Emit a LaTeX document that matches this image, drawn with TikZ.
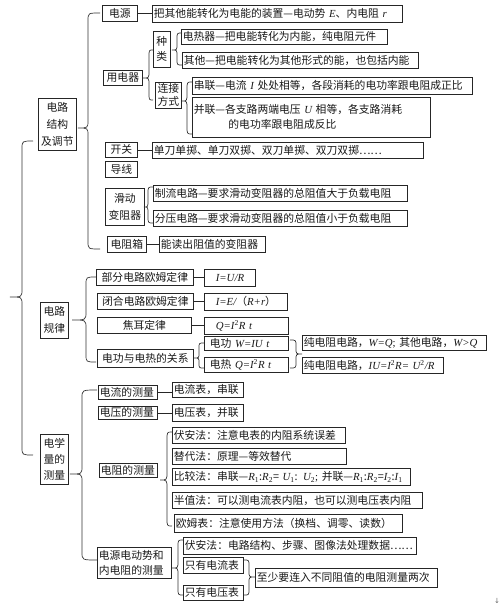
\documentclass[tikz,border=0pt]{standalone}
\usepackage{fontspec}
\setmainfont{Noto Sans CJK SC}
\newfontfamily\tms{Liberation Serif}
\newfontfamily\djv{DejaVu Sans}
\newcommand\vi[1]{{\tms\itshape #1}}
\newcommand\sbs[1]{\textsubscript{\tms\upshape #1}}
\newcommand\sps[1]{\textsuperscript{\tms\upshape #1}}
\newcommand\brc[7]{\draw[br] (#1,#2) .. controls (#3,#2) .. (#3,{#2+#7}) -- (#3,{#5-#7}) .. controls (#3,#5) .. (#4,#5) .. controls (#3,#5) .. (#3,{#5+#7}) -- (#3,{#6-#7}) .. controls (#3,#6) .. (#1,#6);}
\begin{document}
\begin{tikzpicture}[x=1pt,y=-1pt,
  bx/.style={draw=black!85, line width=0.7pt, inner xsep=1.5pt, inner ysep=0pt,
    anchor=north west, align=left, font=\fontsize{10.8}{15}\selectfont, text=black!90},
  ln/.style={draw=black!85, line width=0.7pt},
  br/.style={draw=black!80, line width=0.7pt}]
\fill[white] (0,0) rectangle (501,607);
\useasboundingbox (0,0) rectangle (501,607);

% --- circuit structure
\node[bx,text width=32pt,minimum height=16pt,align=center] (yuan) at (102,5) {电源};
\node[bx,text width=247pt,minimum height=17pt] (yuand) at (152,5) {把其他能转化为电能的装置—电动势 \vi{E}、内电阻 \vi{r}};
\node[bx,text width=14pt,minimum height=36pt,align=center] (zl) at (153,31) {种\\类};
\node[bx,text width=203pt,minimum height=15pt] (drq) at (181,29) {电热器—把电能转化为内能，纯电阻元件};
\node[bx,text width=233pt,minimum height=16pt] (qt) at (182,52) {其他—把电能转化为其他形式的能，也包括内能};
\node[bx,text width=36pt,minimum height=15pt,align=center] (yd) at (103,70) {用电器};
\node[bx,text width=23pt,minimum height=26pt,align=center,font=\fontsize{10.8}{13}\selectfont] (ljfs) at (155,82) {连接\\方式};
\node[bx,text width=277pt,minimum height=17pt] (cl) at (192,77) {串联—电流 \vi{I} 处处相等，各段消耗的电功率跟电阻成正比};
\node[bx,text width=235pt,minimum height=40pt] (bl) at (192,97) {并联—各支路两端电压 \vi{U} 相等，各支路消耗\\\hspace*{3.2em}的电功率跟电阻成反比};
\node[bx,text width=35pt,minimum height=52pt,align=center,font=\fontsize{10.8}{17}\selectfont] (jg) at (38,98) {电路\\结构\\及调节};
\node[bx,text width=29pt,minimum height=15pt,align=center] (kg) at (105,142) {开关};
\node[bx,text width=268pt,minimum height=16pt] (kgd) at (152,142) {单刀单掷、单刀双掷、双刀单掷、双刀双掷……};
\node[bx,text width=29pt,minimum height=16pt,align=center] (dx) at (105,161) {导线};
\node[bx,text width=36pt,minimum height=37pt,align=center,font=\fontsize{10.8}{17}\selectfont] (hd) at (105,188) {滑动\\变阻器};
\node[bx,text width=251pt,minimum height=16pt] (zliu) at (153,185) {制流电路—要求滑动变阻器的总阻值大于负载电阻};
\node[bx,text width=251pt,minimum height=16pt] (fy) at (153,210) {分压电路—要求滑动变阻器的总阻值小于负载电阻};
\node[bx,text width=36pt,minimum height=16pt,align=center] (dzx) at (107,236) {电阻箱};
\node[bx,text width=103pt,minimum height=16pt] (dzxd) at (159,236) {能读出阻值的变阻器};

% --- circuit laws
\node[bx,text width=25pt,minimum height=36pt,align=center,font=\fontsize{10.8}{17}\selectfont] (gl) at (40,302) {电路\\规律};
\node[bx,text width=94pt,minimum height=16pt,align=center] (bf) at (96,269) {部分电路欧姆定律};
\node[bx,text width=48pt,minimum height=17pt] (bfd) at (204,269) {\hspace{10pt}\vi{I=U/R}};
\node[bx,text width=93pt,minimum height=16pt,align=center] (bh) at (97,293) {闭合电路欧姆定律};
\node[bx,text width=80pt,minimum height=17pt] (bhd) at (204,293) {\hspace{10pt}\vi{I=E/}（\vi{R+r}）};
\node[bx,text width=91pt,minimum height=16pt,align=center] (je) at (97,317) {焦耳定律};
\node[bx,text width=81pt,minimum height=17pt] (jed) at (204,317) {\hspace{10pt}\vi{Q=I}\sps{2}\vi{R t}};
\node[bx,text width=93pt,minimum height=18pt,align=center] (dg) at (97,349) {电功与电热的关系};
\node[bx,text width=81pt,minimum height=14pt] (dgw) at (204,336) {\hspace{4pt}电功 \vi{W=IU t}};
\node[bx,text width=81pt,minimum height=15pt] (drQ) at (204,357) {\hspace{4pt}电热 \vi{Q=I}\sps{2}\vi{R t}};
\node[bx,text width=181pt,minimum height=15pt] (cw) at (302,335) {纯电阻电路，\vi{W=Q}{\tms;} 其他电路，\vi{W>Q}};
\node[bx,text width=138pt,minimum height=16pt] (ciu) at (302,357) {纯电阻电路，\vi{IU=I}\sps{2}\vi{R= U}\sps{2}\vi{/R}};

% --- measurement
\node[bx,text width=25pt,minimum height=50pt,align=center,font=\fontsize{10.8}{16}\selectfont] (cl2) at (40,434) {电学\\量的\\测量};
\node[bx,text width=56pt,minimum height=14pt] (dlc) at (98,385) {电流的测量};
\node[bx,text width=68pt,minimum height=15pt] (dld) at (172,382) {电流表，串联};
\node[bx,text width=56pt,minimum height=13pt] (dyc) at (98,406) {电压的测量};
\node[bx,text width=68pt,minimum height=17pt] (dyd) at (172,404) {电压表，并联};
\node[bx,text width=170pt,minimum height=16pt] (fa) at (172,427) {伏安法：注意电表的内阻系统误差};
\node[bx,text width=171pt,minimum height=16pt] (td) at (172,448) {替代法：原理—等效替代};
\node[bx,text width=55pt,minimum height=14pt] (dzc) at (99,463) {电阻的测量};
\node[bx,text width=235pt,minimum height=17pt] (bj) at (172,468) {比较法：串联—\vi{R}\sbs{1}:\vi{R}\sbs{2}= \vi{U}\sbs{1}: \vi{U}\sbs{2}{\tms;}\ 并联—\vi{R}\sbs{1}:\vi{R}\sbs{2}=\vi{I}\sbs{2}:\vi{I}\sbs{1}};
\node[bx,text width=247pt,minimum height=16pt] (bz) at (172,492) {半值法：可以测电流表内阻，也可以测电压表内阻};
\node[bx,text width=225pt,minimum height=18pt] (om) at (174,514) {欧姆表：注意使用方法（换档、调零、读数）};
\node[bx,text width=71pt,minimum height=31pt] (dy) at (97,547) {电源电动势和\\内电阻的测量};
\node[bx,text width=230pt,minimum height=17pt] (fa2) at (183,537) {伏安法：电路结构、步骤、图像法处理数据……};
\node[bx,text width=57pt,minimum height=16pt] (zyl) at (183,557) {只有电流表};
\node[bx,text width=57pt,minimum height=15pt] (zyy) at (183,585) {只有电压表};
\node[bx,text width=179pt,minimum height=19pt] (zs) at (255,568) {至少要连入不同阻值的电阻测量两次};

\node[anchor=center,inner sep=0pt,font=\djv\fontsize{7}{8}\selectfont,text=black!60] (mark) at (497,601) {↓};

% --- short connectors
\draw[ln] (yuan.east) -- (yuan.east -| yuand.west);
\draw[ln] (kg.east) -- (kg.east -| kgd.west);
\draw[ln] (dzx.east) -- (dzx.east -| dzxd.west);
\draw[ln] (bf.east) -- (bf.east -| bfd.west);
\draw[ln] (bh.east) -- (bh.east -| bhd.west);
\draw[ln] (je.east) -- (je.east -| jed.west);
\draw[ln] (dlc.east) -- (dlc.east -| dld.west);
\draw[ln] (dyc.east) -- (dyc.east -| dyd.west);

% --- braces
\brc{33}{141}{22}{10}{297}{455}{8}
\brc{100}{13}{88}{78}{128}{249}{8}
\brc{153}{50}{149}{143}{78}{100}{7}
\brc{182}{33}{177}{172}{50}{65}{6}
\brc{192}{82}{187}{182}{101}{134}{8}
\brc{153}{187}{148}{144}{207}{223}{7}
\brc{96}{277}{86}{72}{320}{362}{8}
\brc{204}{343}{199}{194}{358}{368}{5}
\brc{290}{340}{296}{302}{354}{368}{6}
\brc{97}{390}{82}{70}{474}{560}{8}
\brc{172}{432}{167}{160}{480}{526}{8}
\brc{183}{540}{178}{172}{568}{595}{7}
\brc{244}{560}{249}{255}{577}{595}{6}
\end{tikzpicture}
\end{document}
